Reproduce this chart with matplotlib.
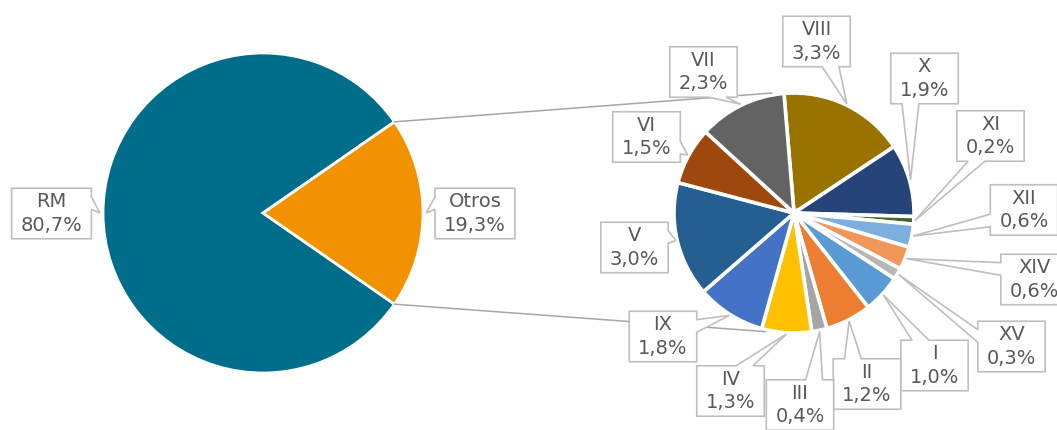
import numpy as np
import matplotlib.pyplot as plt
from matplotlib.patches import Polygon

W, H = 1057, 430

main_labels = ['RM', 'Otros']
main_values = [80.7, 19.3]
main_colors = ['#006E8A', '#F39200']

region_labels = ['VIII', 'X', 'XI', 'XII', 'XIV', 'XV', 'I', 'II', 'III', 'IV', 'IX', 'V', 'VI', 'VII']
region_values = [3.3, 1.9, 0.2, 0.6, 0.6, 0.3, 1.0, 1.2, 0.4, 1.3, 1.8, 3.0, 1.5, 2.3]
region_colors = ['#997300', '#264478', '#43682B', '#7CAFDD', '#F1975A', '#B7B7B7', '#5B9BD5',
                 '#ED7D31', '#A5A5A5', '#FFC000', '#4472C4', '#255E91', '#9E480E', '#636363']

# centre of each label box, in image pixels (x from left, y from top)
box_pos = {
    'RM': (51.5, 213.5), 'Otros': (475, 213.5),
    'VIII': (816.5, 41.5), 'VII': (703.5, 72), 'X': (924.5, 78.5), 'VI': (646.5, 137),
    'XI': (990.5, 136), 'XII': (1024, 210), 'V': (634.5, 247.5), 'XIV': (1034.5, 279.5),
    'IX': (663, 336.5), 'XV': (1011.5, 346.5), 'I': (934.5, 365.5), 'IV': (730.5, 391),
    'II': (867, 384), 'III': (800, 405),
}

TXT = '#595959'
EDGE = '#BFBFBF'
LINE = '#A6A6A6'


def fmt(v):
    return f"{v:.1f}".replace('.', ',') + '%'


def callout(x0, y0, x1, y1, tx, ty):
    # rectangle with a wedge pointer (like the excel data callout)
    w, h = x1 - x0, y1 - y0
    dx, dy = tx - (x0 + x1) / 2, ty - (y0 + y1) / 2
    bottom, right, top, left = [], [], [], []
    if abs(dx) / w > abs(dy) / h:
        if dy > 0:
            b1, b2 = y1 - 5 * h / 12, y1 - h / 6
        else:
            b1, b2 = y0 + h / 6, y0 + 5 * h / 12
        if dx > 0:
            right = [(x1, b1), (tx, ty), (x1, b2)]
        else:
            left = [(x0, b2), (tx, ty), (x0, b1)]
    else:
        if dx > 0:
            a1, a2 = x0 + 7 * w / 12, x0 + 5 * w / 6
        else:
            a1, a2 = x0 + w / 6, x0 + 5 * w / 12
        if dy > 0:
            top = [(a2, y1), (tx, ty), (a1, y1)]
        else:
            bottom = [(a1, y0), (tx, ty), (a2, y0)]
    return [(x0, y0)] + bottom + [(x1, y0)] + right + [(x1, y1)] + top + [(x0, y1)] + left


fig = plt.figure(figsize=(W / 100, H / 100), dpi=100)
ax = fig.add_axes([0, 0, 1, 1])

main_c = (263, H - 213)
main_r = 160
sub_c = (794, H - 213)
sub_r = 120

half = 360 * main_values[1] / sum(main_values) / 2
w_main, _ = ax.pie(main_values, colors=main_colors, startangle=half, counterclock=True,
                   center=main_c, radius=main_r,
                   wedgeprops=dict(edgecolor='white', linewidth=2.0))
w_sub, _ = ax.pie(region_values, colors=region_colors, startangle=94.8, counterclock=False,
                  center=sub_c, radius=sub_r,
                  wedgeprops=dict(edgecolor='white', linewidth=2.6))

ax.set_xlim(0, W)
ax.set_ylim(0, H)
ax.set_aspect('equal')
ax.axis('off')

# connector lines between the two pies
ot = w_main[1]
for a_main, a_sub in [(ot.theta2, 100.4), (ot.theta1, 256.5)]:
    p1 = (main_c[0] + main_r * np.cos(np.radians(a_main)), main_c[1] + main_r * np.sin(np.radians(a_main)))
    p2 = (sub_c[0] + 122 * np.cos(np.radians(a_sub)), sub_c[1] + 122 * np.sin(np.radians(a_sub)))
    ax.plot([p1[0], p2[0]], [p1[1], p2[1]], color=LINE, lw=1.1, zorder=1)

items = []
for lab, val, wd in zip(main_labels, main_values, w_main):
    items.append((lab, val, wd, main_c, main_r * 1.02))
for lab, val, wd in zip(region_labels, region_values, w_sub):
    items.append((lab, val, wd, sub_c, sub_r * 1.01))

texts = []
for lab, val, wd, c, r in items:
    bx, by = box_pos[lab]
    t = ax.text(bx, H - by, lab + '\n' + fmt(val), ha='center', va='center', fontsize=14,
                color=TXT, linespacing=1.3, zorder=6)
    mid = np.radians((wd.theta1 + wd.theta2) / 2)
    tip = (c[0] + r * np.cos(mid), c[1] + r * np.sin(mid))
    texts.append((t, tip))

fig.canvas.draw()
renderer = fig.canvas.get_renderer()
inv = ax.transData.inverted()
for t, tip in texts:
    bb = t.get_window_extent(renderer).transformed(inv)
    x0, x1 = bb.x0 - 9, bb.x1 + 9
    y0, y1 = bb.y0 - 4, bb.y1 + 4
    poly = Polygon(callout(x0, y0, x1, y1, tip[0], tip[1]), closed=True,
                   facecolor='white', edgecolor=EDGE, lw=1.2, zorder=5)
    ax.add_patch(poly)

fig.savefig('out.png', dpi=100)
